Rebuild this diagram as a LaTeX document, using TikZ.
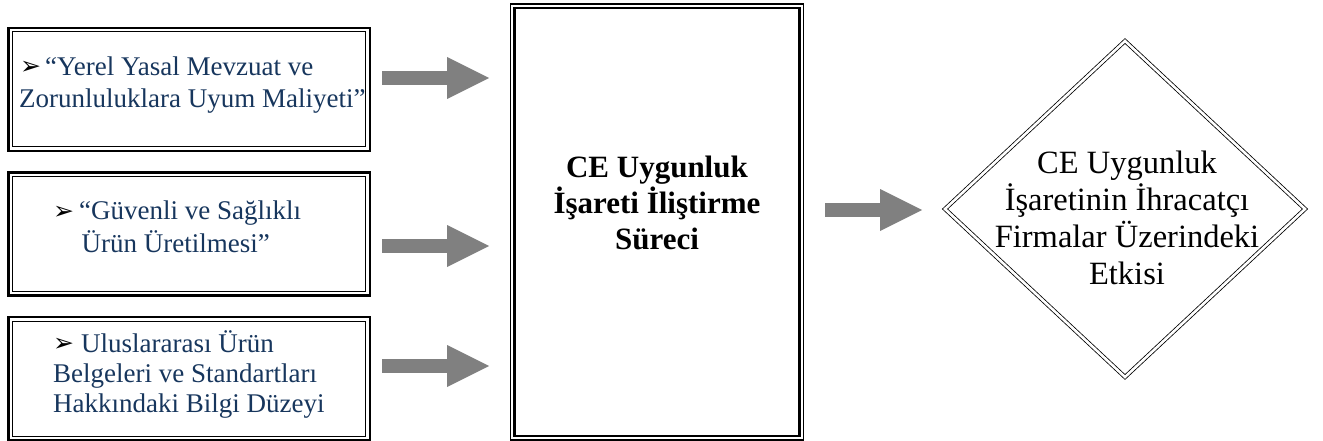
\documentclass[tikz,border=0pt]{standalone}
\usepackage{fontspec}
\setmainfont{Liberation Serif}
\newfontfamily\dejavu{DejaVu Sans}
\usetikzlibrary{arrows.meta,shapes.geometric}
\definecolor{txtblue}{RGB}{23,54,93}
\definecolor{arrowgray}{RGB}{128,128,128}
\newcommand\bul{{\dejavu\fontsize{25}{25}\selectfont\color{black}\raisebox{0.5pt}{➢}}}
\begin{document}
\begin{tikzpicture}[x=1pt,y=-1pt,
  leftbox/.style={draw, line width=2.5pt, minimum width=361.5pt, minimum height=123pt, inner sep=0pt, outer sep=0pt},
  thinframe/.style={draw, line width=1pt},
  midbox/.style={draw, line width=1.2pt, minimum width=293pt, minimum height=436pt, inner sep=0pt, outer sep=0pt},
  thickframe/.style={draw, line width=2.2pt},
  lefttext/.style={text=txtblue, align=left, anchor=west, inner sep=0pt},
  midtext/.style={font=\fontsize{31}{36}\selectfont\bfseries, align=center, inner sep=0pt},
  diatextstyle/.style={font=\fontsize{32.5}{37}\selectfont, align=center, inner sep=0pt},
  fatarrow/.style={draw=arrowgray, line width=14pt, -{Triangle[width=42pt,length=42pt,line width=0pt]}},
  diabox/.style={diamond, draw, double, line width=0.8pt, double distance=2.6pt, minimum width=360pt, minimum height=336pt, inner sep=0pt, outer sep=0pt}
]
\useasboundingbox (0,0) rectangle (1323,441);

% left boxes
\node[leftbox] (b1) at (189,89.5) {};
\draw[thinframe] ([shift={(4,4)}]b1.north west) rectangle ([shift={(-4,-4)}]b1.south east);
\node[leftbox] (b2) at (189,234) {};
\draw[thinframe] ([shift={(4,4)}]b2.north west) rectangle ([shift={(-4,-4)}]b2.south east);
\node[leftbox] (b3) at (189,378.5) {};
\draw[thinframe] ([shift={(4,4)}]b3.north west) rectangle ([shift={(-4,-4)}]b3.south east);

\node[lefttext, font=\fontsize{27}{32.5}\selectfont] (t1) at (19,85)
  {\hspace*{1pt}\bul\hspace{4pt}“Yerel Yasal Mevzuat ve\\Zorunluluklara Uyum Maliyeti”};
\node[lefttext, font=\fontsize{27}{32.5}\selectfont] (t2) at (53,227)
  {\bul\hspace{5pt}“Güvenli ve Sağlıklı\\\hspace*{28.5pt}Ürün Üretilmesi”};
\node[lefttext, font=\fontsize{27}{30}\selectfont] (t3) at (53,374)
  {\bul\hspace{7pt}Uluslararası Ürün\\Belgeleri ve Standartları\\Hakkındaki Bilgi Düzeyi};

% middle box
\node[midbox] (mid) at (657,222) {};
\draw[thickframe] ([shift={(4,4)}]mid.north west) rectangle ([shift={(-4,-4)}]mid.south east);
\node[midtext] (mt) at (657,203) {CE Uygunluk\\İşareti İliştirme\\Süreci};

% diamond
\node[diabox] (dia) at (1125,209) {};
\node[diatextstyle] (dt) at (1127,218) {CE Uygunluk\\İşaretinin İhracatçı\\Firmalar Üzerindeki\\Etkisi};

% arrows
\coordinate (a1s) at (382,78);  \coordinate (a1e) at (489,78);
\coordinate (a2s) at (382,246); \coordinate (a2e) at (489,246);
\coordinate (a3s) at (382,366); \coordinate (a3e) at (489,366);
\coordinate (a4s) at (825,210); \coordinate (a4e) at (922,210);
\draw[fatarrow] (a1s) -- (a1e);
\draw[fatarrow] (a2s) -- (a2e);
\draw[fatarrow] (a3s) -- (a3e);
\draw[fatarrow] (a4s) -- (a4e);
\end{tikzpicture}
\end{document}
